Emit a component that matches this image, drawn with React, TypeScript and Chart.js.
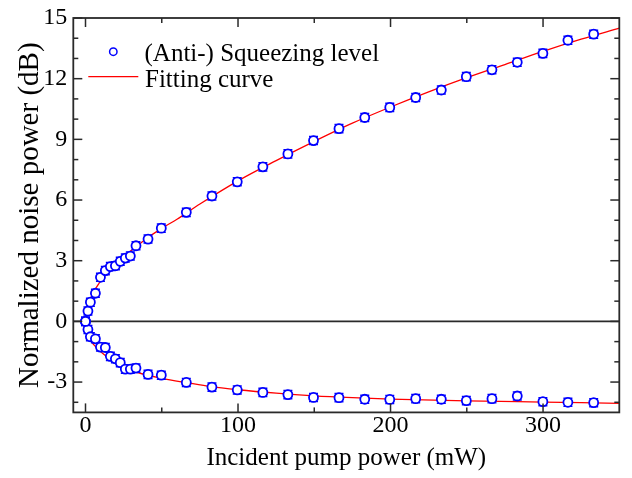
import React, { useEffect, useRef } from "react";
import { Chart, registerables } from "chart.js";

Chart.register(...registerables);

const FONT = "'Liberation Serif', 'Times New Roman', Times, serif";

// Measured points
const pumpPower = [0, 1.6, 3.2, 6.5, 9.8, 13, 16.3, 19.6, 22.8, 26.1, 29.4, 33.1, 41, 49.7, 66.1, 82.9, 99.5, 116.3, 132.7, 149.5, 166.2, 183.1, 199.5, 216.5, 233.3, 249.7, 266.5, 283.1, 299.9, 316.3, 333.2];
const antiSqueezing = [0, 0.51, 0.95, 1.39, 2.18, 2.51, 2.71, 2.75, 2.97, 3.13, 3.23, 3.74, 4.07, 4.61, 5.39, 6.2, 6.9, 7.64, 8.28, 8.94, 9.53, 10.08, 10.58, 11.07, 11.44, 12.1, 12.44, 12.81, 13.25, 13.9, 14.2];
const squeezing = [0, -0.4, -0.76, -0.86, -1.27, -1.29, -1.73, -1.85, -2.04, -2.36, -2.36, -2.31, -2.62, -2.66, -3.02, -3.25, -3.39, -3.51, -3.62, -3.76, -3.77, -3.85, -3.86, -3.82, -3.85, -3.92, -3.82, -3.69, -3.97, -4.0, -4.02];
const errorBar = [0.2, 0.2, 0.2, 0.2, 0.2, 0.2, 0.2, 0.2, 0.2, 0.2, 0.2, 0.2, 0.2, 0.2, 0.2, 0.2, 0.2, 0.2, 0.2, 0.2, 0.2, 0.2, 0.2, 0.2, 0.2, 0.2, 0.2, 0.2, 0.2, 0.2, 0.2];

// Fitting curves
const fitPowerAnti = [0, 1, 2, 4, 6, 8, 10, 15, 20, 25, 30, 35, 40, 50, 60, 75, 100, 125, 150, 175, 200, 225, 250, 275, 300, 325, 350];
const fitAnti = [0, 0.45, 0.8, 1.25, 1.55, 1.78, 2.0, 2.45, 2.85, 3.2, 3.5, 3.8, 4.1, 4.6, 5.05, 5.8, 6.95, 7.95, 8.9, 9.8, 10.6, 11.35, 12.05, 12.7, 13.35, 13.95, 14.5];
const fitPowerSq = [0, 1, 2, 4, 6, 8, 10, 15, 20, 25, 30, 40, 50, 65, 80, 100, 125, 150, 175, 200, 250, 300, 350];
const fitSqueeze = [0, -0.4, -0.65, -1.0, -1.2, -1.35, -1.5, -1.8, -2.05, -2.25, -2.42, -2.65, -2.82, -3.02, -3.2, -3.38, -3.55, -3.68, -3.77, -3.84, -3.93, -3.99, -4.05];

// Axes
const xTickValues = [0, 100, 200, 300];
const xMinorTicks = [50, 150, 250];
const yTickValues = [-3, 0, 3, 6, 9, 12, 15];
const yMinorTicks = [-4, -2, -1, 1, 2, 4, 5, 7, 8, 10, 11, 13, 14];

const legendLabels = ["(Anti-) Squeezing level", "Fitting curve"];

const BLUE = "#0000ff";
const RED = "#ff0000";
const FRAME = "#2a2a2a";

const decor = {
  id: "decor",
  beforeDatasetsDraw(chart: any) {
    const { ctx, chartArea, scales } = chart;
    const y0 = scales.y.getPixelForValue(0);
    ctx.save();
    ctx.strokeStyle = FRAME;
    ctx.lineWidth = 1.7;
    ctx.beginPath();
    ctx.moveTo(chartArea.left, y0);
    ctx.lineTo(chartArea.right, y0);
    ctx.stroke();
    ctx.restore();
  },
  beforeDatasetDraw(chart: any, args: any) {
    const ds = chart.data.datasets[args.index];
    if (!ds.errors) return;
    const { ctx, scales } = chart;
    ctx.save();
    ctx.strokeStyle = BLUE;
    ctx.lineWidth = 1.5;
    ds.data.forEach((p: any, i: number) => {
      const e = ds.errors[i];
      const px = scales.x.getPixelForValue(p.x);
      const yt = scales.y.getPixelForValue(p.y + e);
      const yb = scales.y.getPixelForValue(p.y - e);
      ctx.beginPath();
      ctx.moveTo(px, yt);
      ctx.lineTo(px, yb);
      ctx.moveTo(px - 4.5, yt);
      ctx.lineTo(px + 4.5, yt);
      ctx.moveTo(px - 4.5, yb);
      ctx.lineTo(px + 4.5, yb);
      ctx.stroke();
    });
    ctx.restore();
  },
  afterDraw(chart: any) {
    const { ctx, chartArea, scales } = chart;
    const { left, right, top, bottom } = chartArea;
    ctx.save();
    ctx.strokeStyle = FRAME;
    ctx.lineWidth = 1.5;
    const tick = (x1: number, y1: number, x2: number, y2: number) => {
      ctx.beginPath();
      ctx.moveTo(x1, y1);
      ctx.lineTo(x2, y2);
      ctx.stroke();
    };
    xTickValues.forEach((v) => {
      const px = scales.x.getPixelForValue(v);
      tick(px, bottom, px, bottom - 9);
      tick(px, top, px, top + 9);
    });
    xMinorTicks.forEach((v) => {
      const px = scales.x.getPixelForValue(v);
      tick(px, bottom, px, bottom - 5);
      tick(px, top, px, top + 5);
    });
    yTickValues.forEach((v) => {
      const py = scales.y.getPixelForValue(v);
      tick(left, py, left + 9, py);
      tick(right, py, right - 9, py);
    });
    yMinorTicks.forEach((v) => {
      const py = scales.y.getPixelForValue(v);
      tick(left, py, left + 5, py);
      tick(right, py, right - 5, py);
    });
    ctx.lineWidth = 1.8;
    ctx.strokeRect(left, top, right - left, bottom - top);

    // legend
    ctx.strokeStyle = BLUE;
    ctx.lineWidth = 1.5;
    ctx.beginPath();
    ctx.arc(113.3, 51.7, 3.7, 0, Math.PI * 2);
    ctx.stroke();
    ctx.strokeStyle = RED;
    ctx.lineWidth = 1.3;
    ctx.beginPath();
    ctx.moveTo(88.3, 76.7);
    ctx.lineTo(138.3, 76.7);
    ctx.stroke();
    ctx.fillStyle = "#000";
    ctx.font = `25px ${FONT}`;
    ctx.textAlign = "left";
    ctx.textBaseline = "alphabetic";
    ctx.fillText(legendLabels[0], 144.5, 61);
    ctx.fillText(legendLabels[1], 145, 87);
    ctx.restore();
  },
};

export default function App() {
  const canvasRef = useRef<HTMLCanvasElement | null>(null);

  useEffect(() => {
    const canvas = canvasRef.current;
    if (!canvas) return;
    const pts = (xs: number[], ys: number[]) => xs.map((x, i) => ({ x, y: ys[i] }));
    const pointDs = (ys: number[]) => ({
      type: "scatter" as const,
      data: pts(pumpPower, ys),
      errors: errorBar,
      showLine: false,
      pointRadius: 4.5,
      pointBorderWidth: 1.8,
      pointBorderColor: BLUE,
      pointBackgroundColor: "#ffffff",
      borderColor: BLUE,
      backgroundColor: "#ffffff",
    });
    const lineDs = (xs: number[], ys: number[]) => ({
      type: "scatter" as const,
      data: pts(xs, ys),
      showLine: true,
      pointRadius: 0,
      borderColor: RED,
      borderWidth: 1.3,
      cubicInterpolationMode: "monotone" as const,
      fill: false,
    });
    const chart = new Chart(canvas, {
      type: "scatter",
      data: {
        datasets: [
          pointDs(antiSqueezing),
          pointDs(squeezing),
          lineDs(fitPowerAnti, fitAnti),
          lineDs(fitPowerSq, fitSqueeze),
        ] as any,
      },
      options: {
        responsive: false,
        animation: false,
        devicePixelRatio: 1,
        layout: { padding: { left: 0, top: 16.3, right: 12.7, bottom: 0 } },
        plugins: { legend: { display: false }, tooltip: { enabled: false } },
        scales: {
          x: {
            type: "linear",
            min: -8,
            max: 350,
            grid: { display: false, drawTicks: false },
            border: { display: false },
            afterBuildTicks: (s: any) => {
              s.ticks = xTickValues.map((v) => ({ value: v }));
            },
            afterFit: (s: any) => {
              s.height = 65.6;
            },
            ticks: {
              font: { family: FONT, size: 24, lineHeight: 1 },
              color: "#000",
              padding: 1,
              maxRotation: 0,
              autoSkip: false,
            },
            title: {
              display: true,
              text: "Incident pump power (mW)",
              font: { family: FONT, size: 25, lineHeight: 1.2 },
              color: "#000",
              padding: { top: 0, bottom: 4.7 },
            },
          },
          y: {
            type: "linear",
            min: -4.5,
            max: 15,
            grid: { display: false, drawTicks: false },
            border: { display: false },
            afterBuildTicks: (s: any) => {
              s.ticks = yTickValues.map((v) => ({ value: v }));
            },
            afterFit: (s: any) => {
              s.width = 73.3;
            },
            ticks: {
              font: { family: FONT, size: 24, lineHeight: 1 },
              color: "#000",
              padding: 6,
              autoSkip: false,
            },
            title: {
              display: true,
              text: "Normalized noise power (dB)",
              font: { family: FONT, size: 29, lineHeight: 1.2 },
              color: "#000",
              padding: { top: 12.6, bottom: 0 },
            },
          },
        },
      } as any,
      plugins: [decor],
    });
    return () => chart.destroy();
  }, []);

  return (
    <div style={{ position: "absolute", left: 0, top: 0, width: 632, height: 478, background: "#fff" }}>
      <canvas ref={canvasRef} width={632} height={478} style={{ width: 632, height: 478, display: "block" }} />
    </div>
  );
}
